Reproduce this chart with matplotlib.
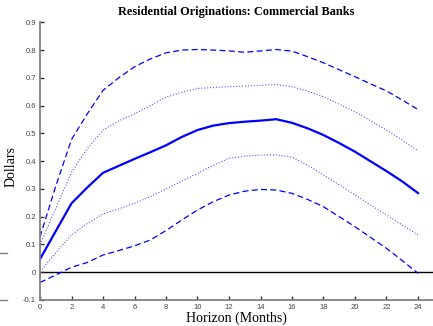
import matplotlib
matplotlib.use("Agg")
import matplotlib.pyplot as plt
from matplotlib.lines import Line2D

# Impulse response of residential originations at commercial banks (dollars)
horizon = list(range(25))
median = [0.047, 0.148, 0.248, 0.305, 0.358, 0.383, 0.408, 0.432, 0.457, 0.487,
          0.512, 0.528, 0.537, 0.542, 0.546, 0.551, 0.538, 0.518, 0.494, 0.465,
          0.434, 0.399, 0.364, 0.327, 0.285]
inner_upper = [0.100, 0.230, 0.360, 0.445, 0.512, 0.545, 0.570, 0.600, 0.630, 0.648,
               0.662, 0.665, 0.668, 0.670, 0.673, 0.676, 0.668, 0.652, 0.632, 0.605,
               0.578, 0.545, 0.512, 0.476, 0.437]
inner_lower = [0.002, 0.070, 0.134, 0.175, 0.210, 0.228, 0.248, 0.272, 0.300, 0.328,
               0.356, 0.385, 0.410, 0.418, 0.422, 0.423, 0.414, 0.385, 0.350, 0.315,
               0.278, 0.242, 0.206, 0.170, 0.134]
outer_upper = [0.127, 0.310, 0.478, 0.570, 0.655, 0.700, 0.740, 0.768, 0.790, 0.800,
               0.802, 0.800, 0.797, 0.792, 0.797, 0.802, 0.796, 0.776, 0.754, 0.729,
               0.704, 0.678, 0.653, 0.620, 0.586]
outer_lower = [-0.037, -0.010, 0.018, 0.035, 0.062, 0.078, 0.095, 0.116, 0.150, 0.188,
               0.224, 0.254, 0.278, 0.292, 0.298, 0.296, 0.284, 0.262, 0.236, 0.200,
               0.164, 0.125, 0.086, 0.042, -0.004]
xticks = list(range(0, 25, 2))
yticks = [-0.1, 0, 0.1, 0.2, 0.3, 0.4, 0.5, 0.6, 0.7, 0.8, 0.9]
ytick_labels = ["-0.1", "0", "0.1", "0.2", "0.3", "0.4", "0.5", "0.6", "0.7", "0.8", "0.9"]

plt.rcParams["lines.scale_dashes"] = False
W, H = 433, 326
fig = plt.figure(figsize=(W / 100, H / 100), dpi=100)
ax = fig.add_axes([40 / W, 26 / H, 393 / W, 277.7 / H])

blue = "#0000ff"
light_blue = "#4040ff"
ax.axhline(0, color="black", lw=1.0, zorder=1)
ax.plot(horizon, outer_upper, color=blue, lw=0.9, dashes=(4.3, 2.4))
ax.plot(horizon, outer_lower, color=blue, lw=0.9, dashes=(4.3, 2.4))
ax.plot(horizon, inner_upper, color=light_blue, lw=0.8, dashes=(0.7, 1.4))
ax.plot(horizon, inner_lower, color=light_blue, lw=0.8, dashes=(0.7, 1.4))
ax.plot(horizon, median, color=blue, lw=1.6, solid_joinstyle="miter")

ax.set_xlim(0, 393 / 15.75)
ax.set_ylim(-0.1, 0.9)
ax.set_xticks(xticks)
ax.set_xticklabels([str(t) for t in xticks])
ax.set_yticks(yticks)
ax.set_yticklabels(ytick_labels)

grey = "#808080"
for side in ("top", "right"):
    ax.spines[side].set_visible(False)
for side in ("left", "bottom"):
    ax.spines[side].set_color(grey)
    ax.spines[side].set_linewidth(1.3)
ax.tick_params(direction="in", length=3, width=1.0, color="#333333",
               labelsize=5.5, labelcolor="#444444", pad=3)
for lab in ax.get_xticklabels() + ax.get_yticklabels():
    lab.set_family("Liberation Sans")

ax.set_title("Residential Originations: Commercial Banks", fontsize=8.8,
             fontweight="bold", family="Liberation Serif", pad=5)
ax.set_xlabel("Horizon (Months)", fontsize=10, family="Liberation Serif", labelpad=0)
ax.set_ylabel("Dollars", fontsize=10, family="Liberation Serif")
ax.yaxis.set_label_coords(-0.056, 0.48)

# stray tick marks from an adjoining panel at the left edge
for py in (253.3, 300.0):
    fig.add_artist(Line2D([0, 7 / W], [1 - py / H, 1 - py / H],
                          color=grey, lw=1.0, transform=fig.transFigure))

fig.savefig("out.png", dpi=100)
